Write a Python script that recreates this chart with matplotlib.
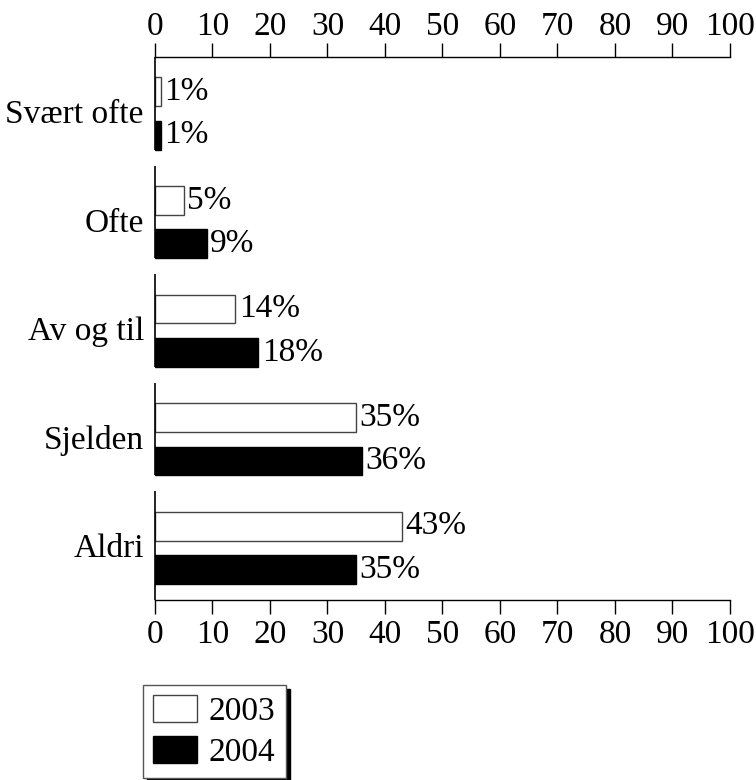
import matplotlib
matplotlib.use("Agg")
import matplotlib.pyplot as plt
from matplotlib.patches import Patch

plt.rcParams['font.family'] = ['Liberation Serif', 'DejaVu Serif']

categories = ["Svært ofte", "Ofte", "Av og til", "Sjelden", "Aldri"]
years = ["2003", "2004"]
values_2003 = [1, 5, 14, 35, 43]
values_2004 = [1, 9, 18, 36, 35]

fig = plt.figure(figsize=(7.56, 7.8), dpi=100)
ax = fig.add_axes([0.205, 0.2308, 0.7606, 0.6961])

pos = list(range(len(categories)))
h = 0.265
off = 0.2
fs = 24
ax.barh([p - off + 0.02 for p in pos], values_2003, height=h, color='white',
        edgecolor='#444444', linewidth=1)
ax.barh([p + off + 0.02 for p in pos], values_2004, height=h, color='black',
        edgecolor='black', linewidth=1)

for p, v in zip(pos, values_2003):
    ax.text(v + 0.6, p - off + 0.02, f"{v}%", va='center', ha='left', fontsize=fs)
for p, v in zip(pos, values_2004):
    ax.text(v + 0.6, p + off + 0.02, f"{v}%", va='center', ha='left', fontsize=fs)

ax.set_xlim(0, 100)
ax.set_ylim(len(categories) - 0.5, -0.5)
ax.set_xticks(range(0, 101, 10))
ax.set_yticks(pos)
ax.set_yticklabels(categories, fontsize=fs)
ax.tick_params(axis='y', length=0, pad=8)
ax.tick_params(axis='x', top=False, bottom=True, direction='out', length=10,
               width=1, labelsize=fs, pad=4)

# top axis with its own label spacing
top_ax = ax.secondary_xaxis('top')
top_ax.set_xticks(range(0, 101, 10))
top_ax.tick_params(axis='x', direction='out', length=10, width=1, labelsize=fs, pad=1)
top_ax.spines['top'].set_linewidth(1)

for s in ['left', 'right', 'top']:
    ax.spines[s].set_visible(False)
ax.spines['bottom'].set_linewidth(1)

# broken left axis, one piece per category
for i in pos:
    top = i - 0.5
    bottom = i + off + 0.02 + h / 2 if i < len(pos) - 1 else i + 0.5
    ax.plot([0, 0], [top, bottom], color='black', lw=1.2, clip_on=False,
            solid_capstyle='butt')

handles = [Patch(facecolor='white', edgecolor='#444444'),
           Patch(facecolor='black', edgecolor='black')]
leg = fig.legend(handles, years, loc='lower left', bbox_to_anchor=(0.189, 0.003),
                 fontsize=fs, frameon=True, fancybox=False, edgecolor='#555555',
                 shadow={'color': 'black', 'alpha': 1, 'ox': 3, 'oy': -3},
                 handlelength=1.33, handleheight=0.88, borderpad=0.3,
                 labelspacing=0.25, handletextpad=0.35, borderaxespad=0)
leg.get_frame().set_linewidth(1)

fig.savefig("out.png", dpi=100)
